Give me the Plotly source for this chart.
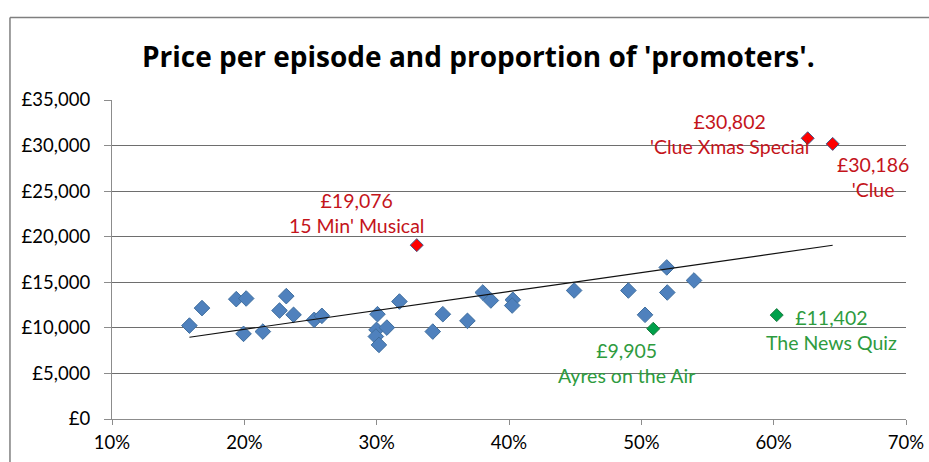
import numpy as np
import plotly.graph_objects as go

# Share of 'promoters' (fraction) and price per episode (GBP) for each programme
promoter_share = [0.1585, 0.168, 0.1939, 0.2014, 0.1994, 0.214, 0.2317, 0.2266, 0.2372,
                  0.2528, 0.2586, 0.3006, 0.2999, 0.3077, 0.2994, 0.3017, 0.3172, 0.3424,
                  0.350, 0.3686, 0.3802, 0.3863, 0.4029, 0.4024, 0.4492, 0.4902, 0.5028,
                  0.5192, 0.5196, 0.5398]
price_per_episode = [10250, 12170, 13150, 13220, 9340, 9590, 13480, 11900, 11430,
                     10880, 11320, 11500, 9780, 10030, 9050, 8130, 12890, 9590,
                     11500, 10770, 13880, 13000, 13080, 12450, 14100, 14100, 11430,
                     16630, 13880, 15200]

# Expensive outliers (red)
expensive_names = ["15 Min' Musical", "'Clue Xmas Special", "'Clue"]
expensive_share = [0.3303, 0.6257, 0.6446]
expensive_price = [19076, 30802, 30186]

# Good-value programmes (green)
value_names = ["Ayres on the Air", "The News Quiz"]
value_share = [0.509, 0.6023]
value_price = [9905, 11402]

# Label offsets in pixels (x, y) relative to each highlighted point
expensive_offsets = [(-60, 32), (-78, 4), (40, -33)]
value_offsets = [(-27, -34), (55, -15)]

y_ticks = [0, 5000, 10000, 15000, 20000, 25000, 30000, 35000]
y_tick_labels = [f"£{v:,}" for v in y_ticks]
x_ticks = [0.1, 0.2, 0.3, 0.4, 0.5, 0.6, 0.7]

FONT = "Lato"
TITLE_FONT = "Open Sans"
BLUE = "#4F81BD"
RED_TEXT = "#C4141B"
GREEN_TEXT = "#2E9B3E"

# Linear trend over every programme
all_x = np.array(promoter_share + expensive_share + value_share)
all_y = np.array(price_per_episode + expensive_price + value_price)
slope, intercept = np.polyfit(all_x, all_y, 1)
trend_x = np.array([all_x.min(), all_x.max()])
trend_y = slope * trend_x + intercept

fig = go.Figure()

fig.add_trace(go.Scatter(
    x=promoter_share, y=price_per_episode, mode="markers",
    marker=dict(symbol="diamond", size=12, color=BLUE,
                line=dict(color="#3F6E9E", width=1)),
    showlegend=False, hoverinfo="x+y"))

fig.add_trace(go.Scatter(
    x=trend_x, y=trend_y, mode="lines",
    line=dict(color="#111111", width=1.2),
    showlegend=False, hoverinfo="skip"))

fig.add_trace(go.Scatter(
    x=expensive_share, y=expensive_price, mode="markers",
    marker=dict(symbol="diamond", size=10, color="#FF0000",
                line=dict(color="#3F5A8A", width=1)),
    showlegend=False, hoverinfo="x+y"))

fig.add_trace(go.Scatter(
    x=value_share, y=value_price, mode="markers",
    marker=dict(symbol="diamond", size=10, color="#00A04A",
                line=dict(color="#1E7A40", width=1)),
    showlegend=False, hoverinfo="x+y"))

annotations = []
for name, sx, py, (dx, dy) in zip(expensive_names, expensive_share, expensive_price, expensive_offsets):
    annotations.append(dict(
        x=sx, y=py, xref="x", yref="y", text=f"£{py:,}<br>{name}",
        showarrow=False, xanchor="center", yanchor="middle", align="center",
        xshift=dx, yshift=dy, font=dict(family=FONT, size=19.5, color=RED_TEXT)))
for name, sx, py, (dx, dy) in zip(value_names, value_share, value_price, value_offsets):
    annotations.append(dict(
        x=sx, y=py, xref="x", yref="y", text=f"£{py:,}<br>{name}",
        showarrow=False, xanchor="center", yanchor="middle", align="center",
        xshift=dx, yshift=dy, font=dict(family=FONT, size=19.5, color=GREEN_TEXT)))

# Chart title
annotations.append(dict(
    x=0.462, y=1.1366, xref="paper", yref="paper",
    text="<b>Price per episode and proportion of 'promoters'.</b>",
    showarrow=False, xanchor="center", yanchor="middle",
    font=dict(family=TITLE_FONT, size=28, color="#000000")))

# Outer chart frame (left and top edges)
shapes = [
    dict(type="line", xref="paper", yref="paper",
         x0=-0.1285, x1=-0.1285, y0=1.259, y1=-0.2, line=dict(color="#7F7F7F", width=1.5)),
    dict(type="line", xref="paper", yref="paper",
         x0=-0.1285, x1=1.1, y0=1.259, y1=1.259, line=dict(color="#7F7F7F", width=1.5)),
]

fig.update_layout(
    width=929, height=462,
    margin=dict(l=112, r=23, t=100, b=43, autoexpand=False),
    paper_bgcolor="white", plot_bgcolor="white",
    font=dict(family=FONT, size=18.5, color="#000000"),
    annotations=annotations, shapes=shapes,
)

fig.update_xaxes(
    range=[0.1, 0.7], tickvals=x_ticks, tickformat=".0%",
    showgrid=False, zeroline=False, automargin=False,
    showline=True, linecolor="#8C8C8C", linewidth=1.3,
    ticks="outside", ticklen=5, tickcolor="#8C8C8C", tickwidth=1.3,
    ticklabelstandoff=2,
)
fig.update_yaxes(
    range=[0, 35000], tickvals=y_ticks, ticktext=y_tick_labels,
    showgrid=True, gridcolor="#6E6E6E", gridwidth=1, zeroline=False, automargin=False,
    showline=True, linecolor="#8C8C8C", linewidth=1.3,
    ticks="outside", ticklen=7, tickcolor="#8C8C8C", tickwidth=1.3,
    ticklabelstandoff=10,
)

fig.write_html("out.html")
